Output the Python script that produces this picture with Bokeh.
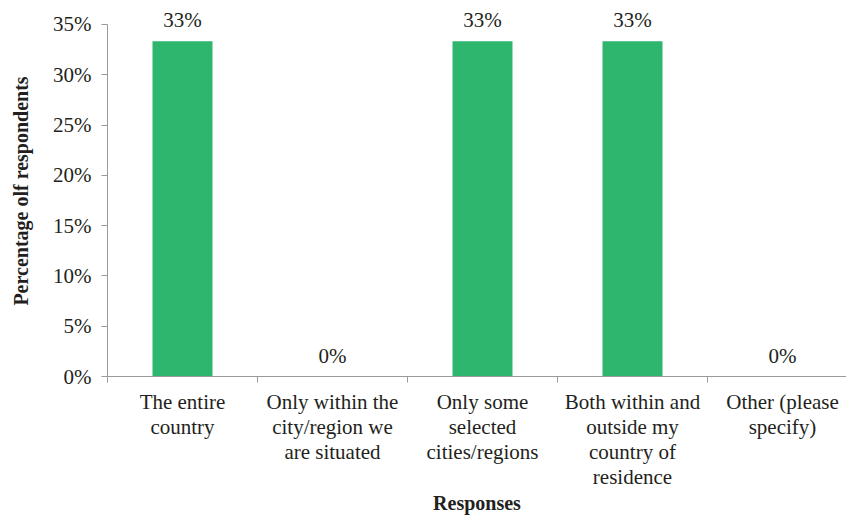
from bokeh.plotting import figure
from bokeh.models import Range1d, FixedTicker, ColumnDataSource, LabelSet
from bokeh.embed import file_html
from bokeh.resources import INLINE

categories = ["The entire\ncountry",
              "Only within the\ncity/region we\nare situated",
              "Only some\nselected\ncities/regions",
              "Both within and\noutside my\ncountry of\nresidence",
              "Other (please\nspecify)"]
values = [33.33, 0, 33.33, 33.33, 0]
value_labels = ["33%", "0%", "33%", "33%", "0%"]
y_ticks = [0, 5, 10, 15, 20, 25, 30, 35]
y_tick_labels = ["0%", "5%", "10%", "15%", "20%", "25%", "30%", "35%"]

FONT = "Liberation Serif"
TXT = "#231f20"
AX = "#9a9a9a"
W, H = 846, 517
left, top, bottom = 107, 5, 140
axis_top_px = 24
cat_px = 150
frame_w = W - left
frame_h = H - top - bottom
y_end = 35 * frame_h / (H - bottom - axis_top_px)

n = len(categories)
xs = [i + 0.5 for i in range(n)]

p = figure(width=W, height=H, output_backend="svg", toolbar_location=None,
           x_range=Range1d(0, frame_w / cat_px), y_range=Range1d(0, y_end),
           min_border_left=left, min_border_top=top, min_border_bottom=bottom,
           min_border_right=0)
p.outline_line_color = None
p.xgrid.visible = False
p.ygrid.visible = False
p.background_fill_color = "white"
p.border_fill_color = "white"

src = ColumnDataSource(dict(x=xs, top=values, lab=value_labels))
p.vbar(x="x", top="top", width=0.4, source=src, fill_color="#2eb66f", line_color=None)

labels = LabelSet(x="x", y="top", text="lab", source=src, text_align="center",
                  text_baseline="alphabetic", y_offset=14, text_font=FONT,
                  text_font_size="21px", text_color=TXT)
p.add_layout(labels)

# y axis
ya = p.yaxis[0]
ya.bounds = (0, 35)
ya.ticker = FixedTicker(ticks=y_ticks)
ya.major_label_overrides = {t: l for t, l in zip(y_ticks, y_tick_labels)}
ya.axis_line_color = AX
ya.major_tick_line_color = AX
ya.major_tick_out = 6
ya.major_tick_in = 0
ya.minor_tick_line_color = None
ya.major_label_standoff = 10
ya.major_label_text_font = FONT
ya.major_label_text_font_size = "21px"
ya.major_label_text_color = TXT
ya.axis_label = "Percentage olf respondents"
ya.axis_label_text_font = FONT
ya.axis_label_text_font_style = "bold"
ya.axis_label_text_font_size = "20px"
ya.axis_label_text_color = TXT
ya.axis_label_standoff = 18

# x axis
xa = p.xaxis[0]
xa.ticker = FixedTicker(ticks=xs, minor_ticks=list(range(n + 1)))
xa.major_label_overrides = {x: c for x, c in zip(xs, categories)}
xa.axis_line_color = AX
xa.major_tick_line_color = None
xa.major_tick_out = 0
xa.major_tick_in = 0
xa.minor_tick_line_color = AX
xa.minor_tick_out = 6
xa.minor_tick_in = 0
xa.major_label_standoff = 7
xa.major_label_text_font = FONT
xa.major_label_text_font_size = "21px"
xa.major_label_text_line_height = 1.05
xa.major_label_text_color = TXT
xa.axis_label = "Responses"
xa.axis_label_text_font = FONT
xa.axis_label_text_font_style = "bold"
xa.axis_label_text_font_size = "20px"
xa.axis_label_text_line_height = 1.0
xa.axis_label_text_color = TXT
xa.axis_label_standoff = 0

open("out.html", "w").write(file_html(p, INLINE))
